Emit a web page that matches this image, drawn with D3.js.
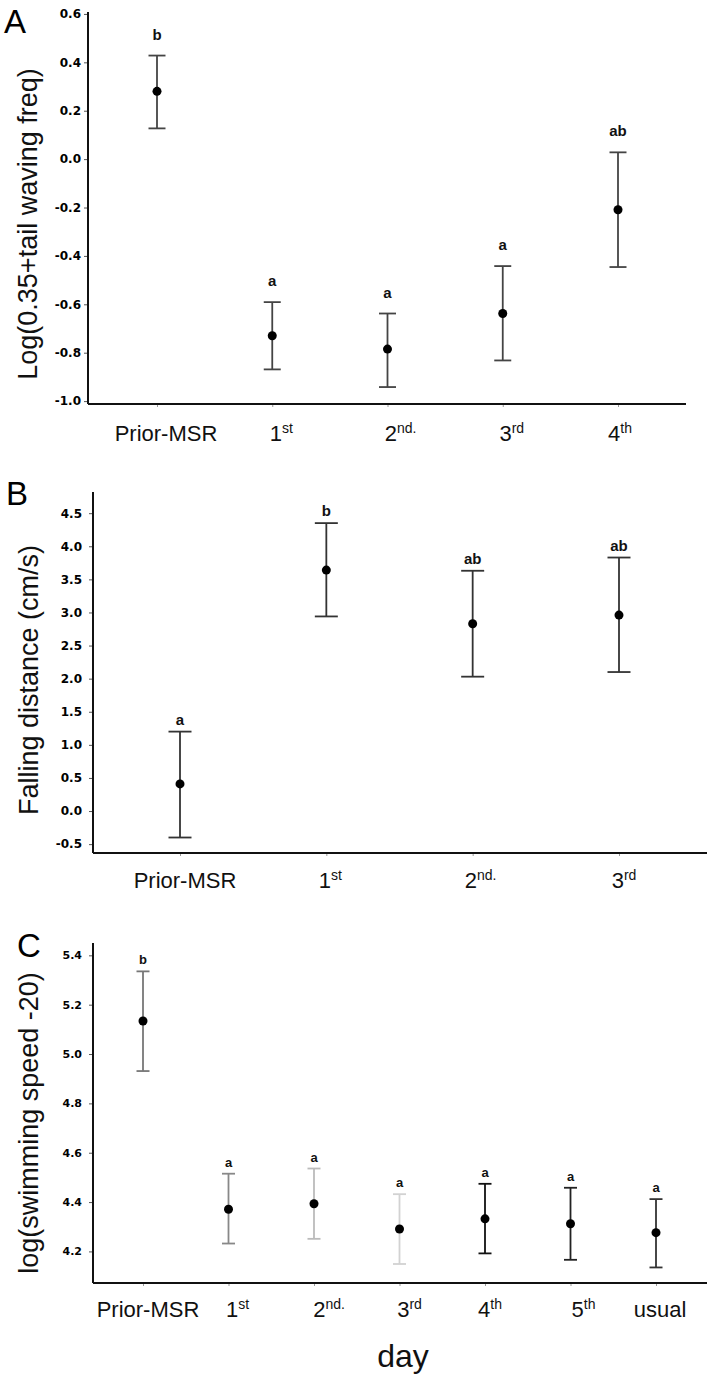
<!DOCTYPE html>
<html>
<head>
<meta charset="utf-8">
<script src="https://cdn.jsdelivr.net/npm/d3@7"></script>
<style>
  body { margin: 0; background: #fff; }
  svg { display: block; font-family: "Liberation Sans", Arial, sans-serif; }
  .tick text { font-family: "DejaVu Sans", sans-serif; font-weight: bold; }
</style>
</head>
<body>
<svg id="chart" width="720" height="1381"></svg>
<script>
// ---- data ----
// panel A: Log(0.35+tail waving freq)
var catsA = ["Prior-MSR", "1st", "2nd.", "3rd", "4th"];
var meanA = [0.28, -0.73, -0.785, -0.638, -0.209];
var upperA = [0.428, -0.591, -0.638, -0.442, 0.028];
var lowerA = [0.127, -0.869, -0.942, -0.832, -0.446];
var groupA = ["b", "a", "a", "a", "ab"];
var ticksA = [0.6, 0.4, 0.2, 0.0, -0.2, -0.4, -0.6, -0.8, -1.0];

// panel B: Falling distance (cm/s)
var catsB = ["Prior-MSR", "1st", "2nd.", "3rd"];
var meanB = [0.41, 3.64, 2.83, 2.96];
var upperB = [1.20, 4.35, 3.63, 3.83];
var lowerB = [-0.40, 2.94, 2.03, 2.10];
var groupB = ["a", "b", "ab", "ab"];
var ticksB = [4.5, 4.0, 3.5, 3.0, 2.5, 2.0, 1.5, 1.0, 0.5, 0.0, -0.5];

// panel C: log(swimming speed -20)
var catsC = ["Prior-MSR", "1st", "2nd.", "3rd", "4th", "5th", "usual"];
var meanC = [5.134, 4.371, 4.393, 4.291, 4.332, 4.312, 4.276];
var upperC = [5.335, 4.515, 4.536, 4.432, 4.474, 4.458, 4.412];
var lowerC = [4.931, 4.232, 4.251, 4.149, 4.192, 4.166, 4.135];
var groupC = ["b", "a", "a", "a", "a", "a", "a"];
var ticksC = [5.4, 5.2, 5.0, 4.8, 4.6, 4.4, 4.2];

var svg = d3.select('#chart');

// draws one error-bar panel
function drawPanel(p) {
    var y = d3.scaleLinear().domain(p.yDomain).range([p.bottom, p.top]);
    var x = d3.scalePoint().domain(p.cats).range(p.xRange);

    var g = svg.append('g');

    // y axis
    var yAxis = d3.axisLeft(y)
        .tickValues(p.ticks)
        .tickFormat(function(d) { return d.toFixed(1); })
        .tickSize(4)
        .tickSizeOuter(0)
        .tickPadding(p.tickPad);
    var yAxisG = g.append('g')
        .attr('transform', 'translate(' + p.left + ',0)')
        .call(yAxis);
    yAxisG.select('.domain').remove();
    yAxisG.selectAll('.tick line').attr('stroke', '#555');
    yAxisG.selectAll('.tick text')
        .attr('font-size', p.tickFont)
        .attr('fill', '#000');
    g.append('line')
        .attr('x1', p.left).attr('x2', p.left)
        .attr('y1', p.top).attr('y2', p.bottom)
        .attr('stroke', '#111').attr('stroke-width', 2);

    // x axis
    var xAxisG = g.append('g')
        .attr('transform', 'translate(0,' + p.bottom + ')')
        .call(d3.axisBottom(x).tickSize(3).tickSizeOuter(0).tickFormat(''));
    xAxisG.select('.domain').remove();
    xAxisG.selectAll('.tick line').attr('stroke', '#999');
    g.append('line')
        .attr('x1', p.left).attr('x2', p.right)
        .attr('y1', p.bottom).attr('y2', p.bottom)
        .attr('stroke', '#111').attr('stroke-width', 2);

    // category labels with superscripts
    p.cats.forEach(function(c, i) {
        var m = c.match(/^(\d)(.+)$/);
        var t = g.append('text')
            .attr('x', x(c) + p.labelDx[i])
            .attr('y', p.bottom + p.labelGap)
            .attr('text-anchor', 'middle')
            .attr('font-size', 22)
            .attr('fill', '#111');
        if (m) {
            t.append('tspan').text(m[1]);
            t.append('tspan').attr('font-size', 14).attr('dy', -8).text(m[2]);
        } else {
            t.text(c);
        }
    });

    var rows = p.cats.map(function(c, i) {
        return {cat: c, mean: p.mean[i], hi: p.upper[i], lo: p.lower[i], grp: p.group[i], i: i};
    });

    var bars = g.selectAll('.bar').data(rows).enter()
        .append('g').attr('class', 'bar');

    bars.append('line')
        .attr('x1', function(d) { return x(d.cat); })
        .attr('x2', function(d) { return x(d.cat); })
        .attr('y1', function(d) { return y(d.hi); })
        .attr('y2', function(d) { return y(d.lo); })
        .attr('stroke', function(d) { return p.colors[d.i]; })
        .attr('stroke-width', 1.8);
    ['hi', 'lo'].forEach(function(k) {
        bars.append('line')
            .attr('x1', function(d) { return x(d.cat) - p.cap; })
            .attr('x2', function(d) { return x(d.cat) + p.cap; })
            .attr('y1', function(d) { return y(d[k]); })
            .attr('y2', function(d) { return y(d[k]); })
            .attr('stroke', function(d) { return p.colors[d.i]; })
            .attr('stroke-width', 1.8);
    });
    bars.append('circle')
        .attr('cx', function(d) { return x(d.cat); })
        .attr('cy', function(d) { return y(d.mean); })
        .attr('r', 4.5)
        .attr('fill', '#000');
    bars.append('text')
        .attr('x', function(d) { return x(d.cat); })
        .attr('y', function(d) { return y(d.hi) - p.letterGap; })
        .attr('text-anchor', 'middle')
        .attr('font-weight', 'bold')
        .attr('font-size', p.letterFont)
        .attr('fill', '#111')
        .text(function(d) { return d.grp; });

    // y label
    g.append('text')
        .attr('transform', 'translate(' + p.yLabelX + ',' + p.yLabelY + ') rotate(-90)')
        .attr('text-anchor', 'middle')
        .attr('font-size', 27)
        .attr('fill', '#111')
        .text(p.yLabel);

    // panel letter
    g.append('text')
        .attr('x', p.letterX).attr('y', p.letterY)
        .attr('font-size', 33)
        .attr('fill', '#000')
        .text(p.panel);
}

drawPanel({
    panel: 'A', letterX: 4, letterY: 33,
    cats: catsA, mean: meanA, upper: upperA, lower: lowerA, group: groupA, ticks: ticksA,
    yDomain: [-1.012, 0.608], top: 12, bottom: 404, left: 88, right: 686,
    xRange: [157, 618], labelDx: [9, 9, 13, 9, 2], labelGap: 37,
    tickFont: 12, tickPad: 3, cap: 8.5, letterGap: 16, letterFont: 15,
    colors: ['#444', '#444', '#444', '#444', '#444'],
    yLabel: 'Log(0.35+tail waving freq)', yLabelX: 37, yLabelY: 224
});

drawPanel({
    panel: 'B', letterX: 6, letterY: 505,
    cats: catsB, mean: meanB, upper: upperB, lower: lowerB, group: groupB, ticks: ticksB,
    yDomain: [-0.634, 4.82], top: 492, bottom: 853, left: 93, right: 707,
    xRange: [180, 619], labelDx: [5, 4, 8, 5], labelGap: 35,
    tickFont: 12, tickPad: 7, cap: 11.5, letterGap: 7, letterFont: 15,
    colors: ['#333', '#333', '#333', '#333'],
    yLabel: 'Falling distance (cm/s)', yLabelX: 38, yLabelY: 680
});

drawPanel({
    panel: 'C', letterX: 17, letterY: 957,
    cats: catsC, mean: meanC, upper: upperC, lower: lowerC, group: groupC, ticks: ticksC,
    yDomain: [4.072, 5.45], top: 943, bottom: 1283, left: 93, right: 707,
    xRange: [143, 656], labelDx: [5, 9, 15, 10, 5, 13, 4], labelGap: 34,
    tickFont: 11, tickPad: 7, cap: 6.5, letterGap: 7, letterFont: 13,
    colors: ['#777', '#888', '#bbb', '#d2d2d2', '#111', '#222', '#333'],
    yLabel: 'log(swimming speed -20)', yLabelX: 38, yLabelY: 1123
});

// shared x label
svg.append('text')
    .attr('x', 403).attr('y', 1367)
    .attr('text-anchor', 'middle')
    .attr('font-size', 32)
    .attr('fill', '#111')
    .text('day');
</script>
</body>
</html>
